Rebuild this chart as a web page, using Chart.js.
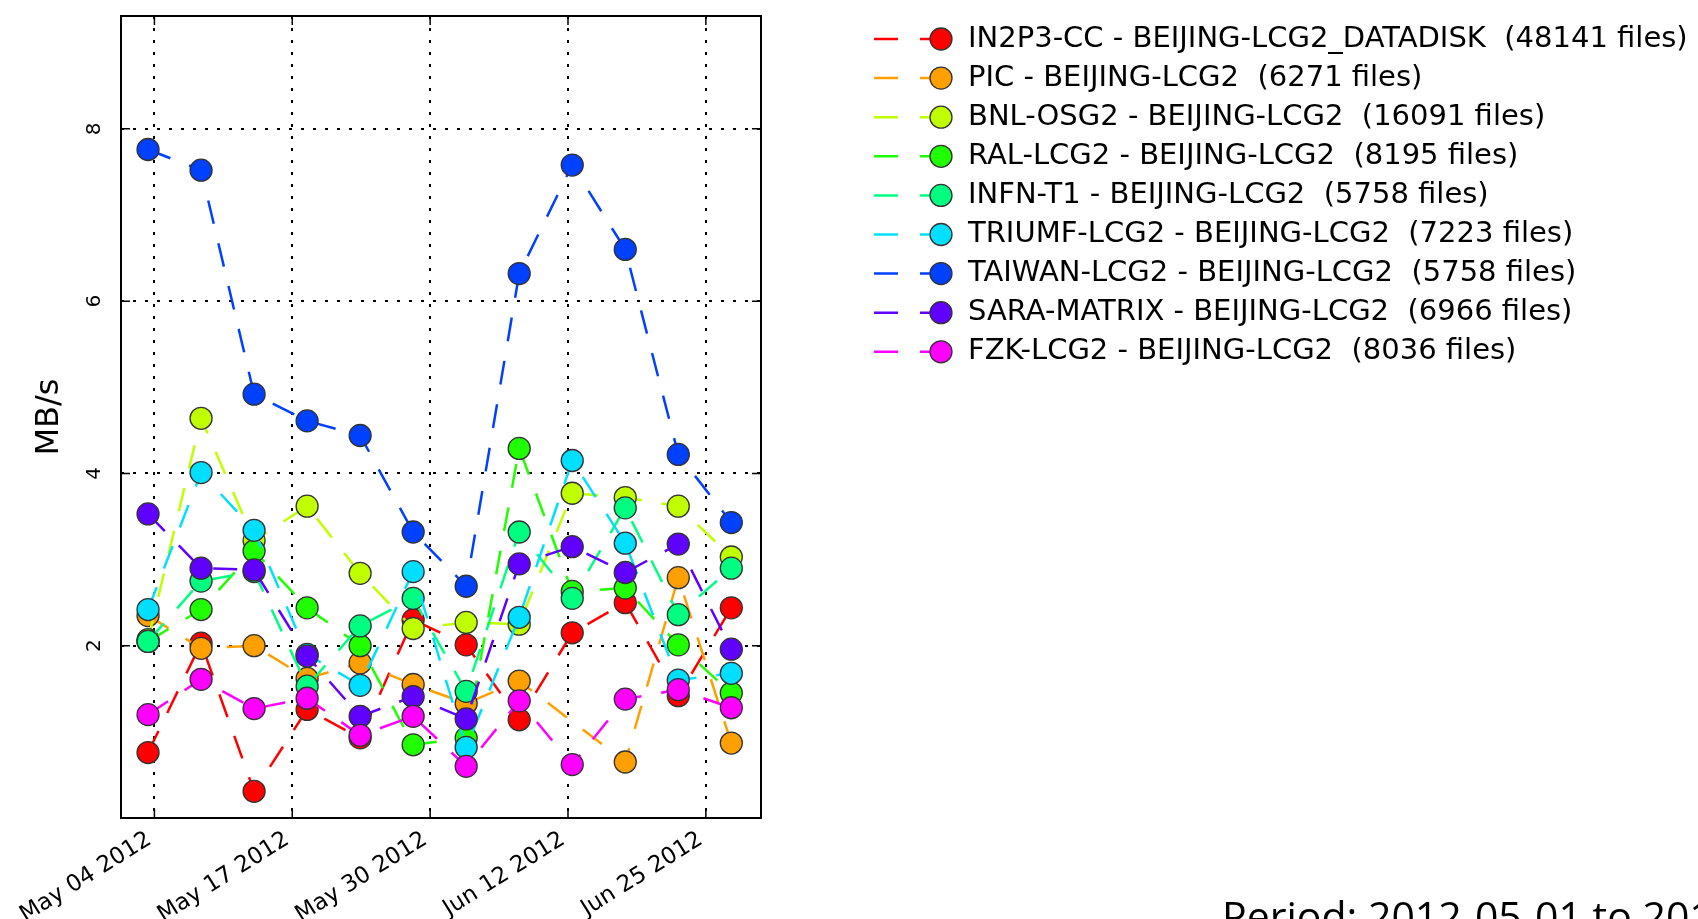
<!DOCTYPE html>
<html>
<head>
<meta charset="utf-8">
<script src="https://cdn.jsdelivr.net/npm/chart.js@4.4.1/dist/chart.umd.min.js"></script>
<style>
  html, body { margin: 0; padding: 0; background: #fff; }
  canvas { display: block; }
</style>
</head>
<body>
<canvas id="transfers" width="1698" height="919"></canvas>
<script>
// x = days since 2012-05-01 (centre of each 5-day bin)
const binDays = [2.4, 7.4, 12.4, 17.4, 22.4, 27.4, 32.4, 37.4, 42.4, 47.4, 52.4, 57.4];
const tickDays = [3, 16, 29, 42, 55];
const tickLabels = ['May 04 2012', 'May 17 2012', 'May 30 2012', 'Jun 12 2012', 'Jun 25 2012'];
const yTicks = [2, 4, 6, 8];

const seriesNames = [
    'IN2P3-CC - BEIJING-LCG2_DATADISK',
    'PIC - BEIJING-LCG2',
    'BNL-OSG2 - BEIJING-LCG2',
    'RAL-LCG2 - BEIJING-LCG2',
    'INFN-T1 - BEIJING-LCG2',
    'TRIUMF-LCG2 - BEIJING-LCG2',
    'TAIWAN-LCG2 - BEIJING-LCG2',
    'SARA-MATRIX - BEIJING-LCG2',
    'FZK-LCG2 - BEIJING-LCG2'
];
const seriesFiles = [48141, 6271, 16091, 8195, 5758, 7223, 5758, 6966, 8036];
const seriesColors = ['#ff0000', '#ffa000', '#bfff00', '#20ff00', '#00ff80', '#00dfff', '#0040ff', '#6000ff', '#ff00ff'];

// MB/s per bin (null = no transfers in that bin)
const in2p3 = [0.76, 2.03, 0.31, 1.26, 0.93, 2.30, 2.01, 1.14, 2.15, 2.50, 1.42, 2.44];
const pic = [2.35, 1.97, 2.00, 1.62, 1.80, 1.55, 1.33, 1.59, null, 0.65, 2.79, 0.87];
const bnl = [2.07, 4.64, 3.22, 3.62, 2.84, 2.20, 2.27, 2.25, 3.77, 3.72, 3.62, 3.03];
const ral = [2.05, 2.42, 3.10, 2.44, 2.00, 0.85, 0.93, 4.29, 2.63, 2.67, 2.01, 1.45];
const infn = [2.05, 2.75, 2.86, 1.53, 2.23, 2.55, 1.47, 3.32, 2.55, 3.60, 2.36, 2.90];
const triumf = [2.42, 4.01, 3.34, 1.90, 1.54, 2.86, 0.82, 2.33, 4.15, 3.19, 1.60, 1.68];
const taiwan = [7.76, 7.52, 4.92, 4.61, 4.44, 3.32, 2.69, 6.32, 7.58, 6.60, 4.22, 3.43];
const sara = [3.53, 2.90, 2.88, 1.88, 1.18, 1.41, 1.15, 2.95, 3.15, 2.85, 3.18, 1.96];
const fzk = [1.20, 1.61, 1.27, 1.39, 0.96, 1.18, 0.60, 1.36, 0.62, 1.38, 1.49, 1.28];
const seriesValues = [in2p3, pic, bnl, ral, infn, triumf, taiwan, sara, fzk];

const periodText = 'Period: 2012-05-01 to 2012-06-30';

const font = 'DejaVu Sans';

let datasets = seriesValues.map(function (vals, i) {
    return {
        label: seriesNames[i] + '  (' + seriesFiles[i] + ' files)',
        data: binDays.map(function (d, j) { return { x: d, y: vals[j] }; })
                     .filter(function (p) { return p.y !== null; }),
        borderColor: seriesColors[i],
        backgroundColor: seriesColors[i],
        borderWidth: 2.5,
        borderDash: [24, 20],
        tension: 0,
        pointRadius: 11,
        pointBackgroundColor: seriesColors[i],
        pointBorderColor: '#333',
        pointBorderWidth: 1.3,
        order: seriesValues.length - i   // later series on top, like matplotlib
    };
});

// frame, inner ticks, legend and period caption
const decorations = {
    id: 'decorations',
    afterDraw: function (chart) {
        let ctx = chart.ctx;
        let a = chart.chartArea;
        let sx = chart.scales.x, sy = chart.scales.y;
        ctx.save();
        ctx.setLineDash([]);
        ctx.strokeStyle = '#000';
        ctx.lineWidth = 1.5;
        ctx.beginPath();
        tickDays.forEach(function (v) {
            let x = sx.getPixelForValue(v);
            ctx.moveTo(x, a.bottom); ctx.lineTo(x, a.bottom - 9);
            ctx.moveTo(x, a.top); ctx.lineTo(x, a.top + 9);
        });
        yTicks.forEach(function (v) {
            let y = sy.getPixelForValue(v);
            ctx.moveTo(a.left, y); ctx.lineTo(a.left + 9, y);
            ctx.moveTo(a.right, y); ctx.lineTo(a.right - 9, y);
        });
        ctx.stroke();
        ctx.lineWidth = 2;
        ctx.strokeRect(a.left, a.top, a.right - a.left, a.bottom - a.top);

        // legend
        ctx.font = '29px "' + font + '"';
        ctx.textBaseline = 'middle';
        ctx.textAlign = 'left';
        datasets.forEach(function (ds, i) {
            let y = 39 + i * 39.1;
            ctx.strokeStyle = ds.borderColor;
            ctx.lineWidth = 2.5;
            ctx.beginPath();
            ctx.moveTo(874, y); ctx.lineTo(898, y);
            ctx.moveTo(920, y); ctx.lineTo(941, y);
            ctx.stroke();
            ctx.beginPath();
            ctx.arc(941, y, 11, 0, Math.PI * 2);
            ctx.fillStyle = ds.backgroundColor;
            ctx.fill();
            ctx.strokeStyle = '#333';
            ctx.lineWidth = 1.3;
            ctx.stroke();
            ctx.fillStyle = '#000';
            ctx.fillText(ds.label, 968, y);
        });

        ctx.font = '41px "Open Sans"';
        ctx.textBaseline = 'alphabetic';
        ctx.fillText(periodText, 1222, 931);
        ctx.restore();
    }
};

let ctx = document.getElementById('transfers').getContext('2d');

let myChart = new Chart(ctx, {
    type: 'line',
    data: { datasets: datasets },
    options: {
        responsive: false,
        animation: false,
        layout: { padding: { top: 16, right: 937, bottom: 0, left: 0 } },
        plugins: {
            legend: { display: false },
            tooltip: { enabled: false }
        },
        scales: {
            x: {
                type: 'linear',
                min: -0.15,
                max: 60.2,
                z: 1,
                afterBuildTicks: function (s) { s.ticks = tickDays.map(function (v) { return { value: v }; }); },
                afterFit: function (s) { s.height = 101; },
                ticks: {
                    autoSkip: false,
                    minRotation: 32,
                    maxRotation: 32,
                    padding: 8,
                    labelOffset: -5,
                    color: '#000',
                    font: { family: font, size: 23 },
                    callback: function (v) { return tickLabels[tickDays.indexOf(v)]; }
                },
                grid: { color: '#000', lineWidth: 2, drawTicks: false },
                border: { display: false, dash: [3, 9] }
            },
            y: {
                min: 0,
                max: 9.31,
                z: 1,
                afterBuildTicks: function (s) { s.ticks = yTicks.map(function (v) { return { value: v }; }); },
                afterFit: function (s) { s.width = 121; },
                ticks: {
                    minRotation: 90,
                    maxRotation: 90,
                    crossAlign: 'center',
                    padding: 0,
                    color: '#000',
                    font: { family: font, size: 20 }
                },
                grid: { color: '#000', lineWidth: 2, drawTicks: true, tickLength: 20, tickColor: 'rgba(0,0,0,0)' },
                border: { display: false, dash: [3, 9] },
                title: {
                    display: true,
                    text: 'MB/s',
                    color: '#000',
                    font: { family: font, size: 32 },
                    padding: { top: 30, bottom: 0 }
                }
            }
        }
    },
    plugins: [decorations]
});
</script>
</body>
</html>
